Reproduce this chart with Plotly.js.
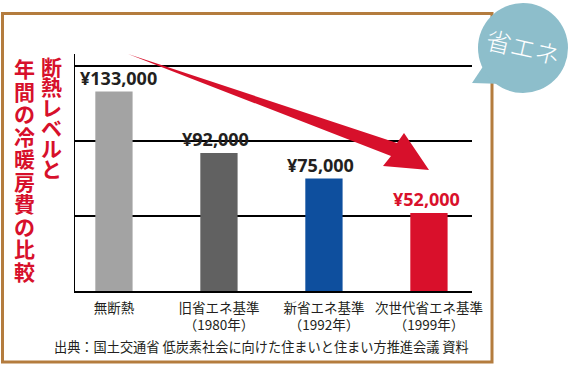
<!DOCTYPE html>
<html><head><meta charset="utf-8">
<script src="https://cdn.plot.ly/plotly-3.0.1.min.js"></script>
<style>html,body{margin:0;padding:0;background:#fff}#chart{width:572px;height:366px}</style>
</head><body><div id="chart"></div>
<script>
// ---- data ----
const categories = ['無断熱','旧省エネ基準','新省エネ基準','次世代省エネ基準'];
const years = ['','（1980年）','（1992年）','（1999年）'];
const costs = [133000, 92000, 75000, 52000];
const valueLabels = ['¥133,000','¥92,000','¥75,000','¥52,000'];
const barColors = ['#a3a3a3','#616161','#0e4f9e','#d9102b'];
const labelColors = ['#231f20','#231f20','#231f20','#d9102b'];
const gridVals = [50000, 100000, 150000];
const titleRight = '断熱レベルと';
const titleLeft = '年間の冷暖房費の比較';
const sourceText = '出典：国土交通省 低炭素社会に向けた住まいと住まい方推進会議 資料';
const badgeText = '省エネ';

// ---- layout helpers (pixel -> paper) ----
const L = 75, R = 472, T = 54, B = 291;
const W = R - L, H = B - T;
const px = x => (x - L) / W;
const py = y => (B - y) / H;
const path = pts => 'M ' + pts.map(p => px(p[0]) + ',' + py(p[1])).join(' L ') + ' Z';

const jp = '"Noto Sans CJK JP", "Noto Sans", sans-serif';
const num = '"Open Sans", "Noto Sans", sans-serif';
const RED = '#d7102b';
const labelShift = [5, -3, -3, -2];

const trace = {
  type: 'bar',
  x: categories,
  y: costs,
  width: 0.355,
  marker: {color: barColors, line: {width: 0}},
  hoverinfo: 'none'
};

const annotations = [];
costs.forEach((v, i) => {
  annotations.push({
    xref: 'x', yref: 'y', x: categories[i], y: v,
    text: valueLabels[i], showarrow: false,
    xanchor: 'center', yanchor: 'bottom', yshift: 0, xshift: labelShift[i],
    font: {family: num, size: 18, weight: 700, color: labelColors[i]}
  });
});
// vertical title (tategaki): right column first, then left column
const vert = (s, sz) => s.split('').map(c => '<span style="font-size:' + sz + 'px">' + c + '</span>').join('<br>');
annotations.push({
  xref: 'paper', yref: 'paper', x: px(51), y: py(117), text: vert(titleRight, 21), showarrow: false,
  xanchor: 'center', yanchor: 'middle', align: 'center',
  font: {family: jp, size: 15.7, weight: 700, color: RED}
});
annotations.push({
  xref: 'paper', yref: 'paper', x: px(24), y: py(169), text: vert(titleLeft, 21), showarrow: false,
  xanchor: 'center', yanchor: 'middle', align: 'center',
  font: {family: jp, size: 17.35, weight: 700, color: RED}
});
annotations.push({
  xref: 'paper', yref: 'paper', x: px(52), y: py(346), text: sourceText, showarrow: false,
  xanchor: 'left', yanchor: 'middle',
  font: {family: jp, size: 13.2, color: '#231f20'}
});
annotations.push({
  xref: 'paper', yref: 'paper', x: px(523), y: py(46), text: badgeText, showarrow: false,
  xanchor: 'center', yanchor: 'middle', textangle: 13,
  font: {family: jp, size: 25, weight: 300, color: '#ffffff'}
});

const shapes = [
  {type: 'rect', xref: 'paper', yref: 'paper', x0: px(2.5), x1: px(492), y0: py(13.5), y1: py(362),
   line: {color: '#b47c3e', width: 3}, fillcolor: 'rgba(0,0,0,0)', layer: 'below'},
  {type: 'path', xref: 'paper', yref: 'paper', layer: 'above',
   path: path([[128,54],[397,143],[404,133],[429,170],[383,166],[391,156]]),
   fillcolor: RED, line: {width: 0}},
  {type: 'path', xref: 'paper', yref: 'paper', layer: 'above',
   path: path([[472,83],[486,62],[504,84]]),
   fillcolor: '#8dbecb', line: {width: 0}},
  {type: 'circle', xref: 'paper', yref: 'paper', layer: 'above',
   x0: px(478), x1: px(568), y0: py(93), y1: py(3),
   fillcolor: '#8dbecb', line: {width: 0}}
];

const layout = {
  width: 572, height: 366,
  margin: {l: L, r: 572 - R, t: T, b: 366 - B, pad: 0},
  paper_bgcolor: '#ffffff', plot_bgcolor: '#ffffff',
  showlegend: false,
  xaxis: {
    type: 'category', range: [-0.371, 3.41],
    tickvals: categories,
    ticktext: categories.map((c, i) => years[i] ? c + '<br>' + years[i] : c),
    showline: true, linecolor: '#000', linewidth: 1.5,
    showgrid: false, zeroline: false, ticks: '', ticklabelstandoff: 4,
    tickfont: {family: jp, size: 13.5, color: '#231f20'},
    fixedrange: true
  },
  yaxis: {
    range: [0, 158000], tickvals: gridVals, showticklabels: false,
    showgrid: true, gridcolor: '#000', gridwidth: 1.5,
    showline: true, linecolor: '#000', linewidth: 1.5,
    zeroline: false, ticks: '', fixedrange: true
  },
  annotations: annotations,
  shapes: shapes
};

Plotly.newPlot('chart', [trace], layout, {displayModeBar: false, staticPlot: true});
</script>
</body></html>
